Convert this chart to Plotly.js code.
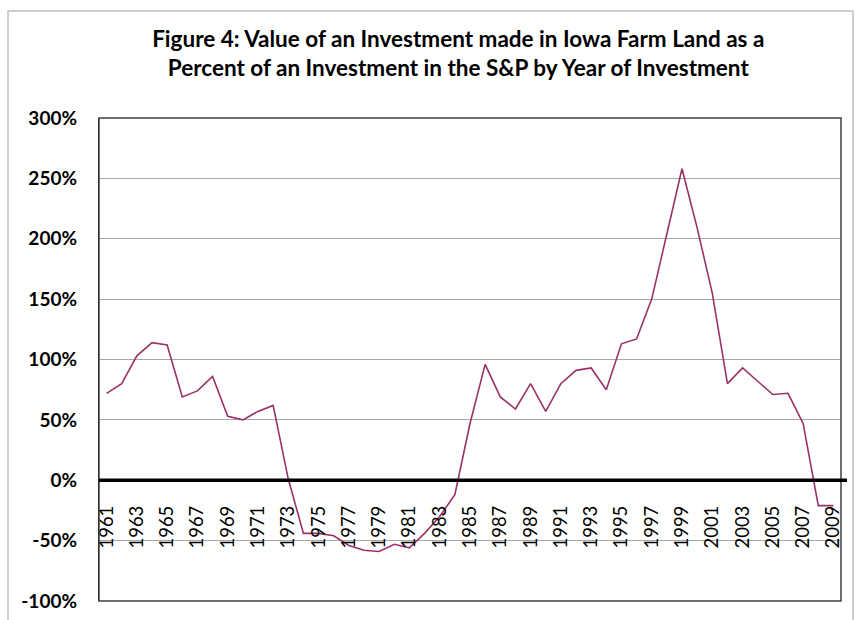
<!DOCTYPE html>
<html>
<head>
<meta charset="utf-8">
<script src="https://cdn.plot.ly/plotly-3.0.1.min.js"></script>
<style>
  html, body { margin: 0; padding: 0; background: #ffffff; }
  #chart { width: 855px; height: 620px; }
</style>
</head>
<body>
<div id="chart"></div>
<script>
// Years of investment (categories)
const years = ["1961","1962","1963","1964","1965","1966","1967","1968","1969","1970",
  "1971","1972","1973","1974","1975","1976","1977","1978","1979","1980",
  "1981","1982","1983","1984","1985","1986","1987","1988","1989","1990",
  "1991","1992","1993","1994","1995","1996","1997","1998","1999","2000",
  "2001","2002","2003","2004","2005","2006","2007","2008","2009"];

// Value of Iowa farm land investment as % of S&P investment
const farmVsSP = [72, 80, 103, 114, 112, 69, 74, 86, 53, 50,
  57, 62, 1, -44, -44, -46, -54, -58, -59, -53,
  -56, -44, -30, -12, 47, 96, 69, 59, 80, 57,
  80, 91, 93, 75, 113, 117, 150, 204, 258, 209,
  155, 80, 93, 82, 71, 72, 47, -21, -21];

// Tick labels shown on the x axis (every other year)
const xTickLabels = ["1961","1963","1965","1967","1969","1971","1973","1975","1977","1979",
  "1981","1983","1985","1987","1989","1991","1993","1995","1997","1999",
  "2001","2003","2005","2007","2009"];

// Y axis ticks
const yTickVals = [-100, -50, 0, 50, 100, 150, 200, 250, 300];
const yTickText = ["-100%", "-50%", "0%", "50%", "100%", "150%", "200%", "250%", "300%"];

const titleText = "Figure 4: Value of an Investment made in Iowa Farm Land as a<br>Percent of an Investment in the S&P by Year of Investment";

const trace = {
  x: years,
  y: farmVsSP,
  type: "scatter",
  mode: "lines",
  line: { color: "#993366", width: 1.6 },
  hoverinfo: "x+y"
};

const layout = {
  width: 855,
  height: 620,
  paper_bgcolor: "#ffffff",
  plot_bgcolor: "#ffffff",
  margin: { l: 99, r: 14, t: 118, b: 19, pad: 0 },
  showlegend: false,
  font: { family: "Lato, 'Open Sans', sans-serif", color: "#000000" },
  title: {
    text: titleText,
    font: { family: "Lato, 'Open Sans', sans-serif", size: 22.5, color: "#000000", weight: "bold" },
    xref: "container", x: 0.536, xanchor: "center",
    yref: "container", y: 0.925, yanchor: "top"
  },
  xaxis: {
    type: "category",
    range: [-0.5, years.length - 0.5],
    tickmode: "array",
    tickvals: xTickLabels,
    ticktext: xTickLabels,
    tickangle: -90,
    tickfont: { size: 18.5, color: "#000000" },
    ticks: "outside",
    ticklen: 17,
    tickcolor: "rgba(0,0,0,0)",
    showgrid: false,
    zeroline: false,
    showline: false,
    anchor: "free",
    position: 0.25,
    fixedrange: true
  },
  yaxis: {
    range: [-100, 300],
    tickmode: "array",
    tickvals: yTickVals,
    ticktext: yTickText,
    tickfont: { size: 19, color: "#000000", weight: "bold" },
    ticks: "outside",
    ticklen: 17,
    tickcolor: "rgba(0,0,0,0)",
    showgrid: true,
    gridcolor: "#a6a6a6",
    gridwidth: 1,
    zeroline: false,
    showline: true,
    linecolor: "#000000",
    linewidth: 1.2,
    fixedrange: true
  },
  shapes: [
    // outer chart frame
    { type: "rect", xref: "paper", yref: "paper",
      x0: (8 - 99) / 742, x1: (853 - 99) / 742,
      y0: (601 - 630) / 483, y1: (601 - 11) / 483,
      line: { color: "#bfbfbf", width: 1.5 }, fillcolor: "rgba(0,0,0,0)", layer: "below" },
    // plot area border
    { type: "rect", xref: "paper", yref: "paper", x0: 0, x1: 1, y0: 0, y1: 1,
      line: { color: "#404040", width: 1.5 }, fillcolor: "rgba(0,0,0,0)", layer: "above" },
    // thick zero line
    { type: "line", xref: "paper", yref: "y", x0: 0, x1: (847 - 99) / 742, y0: 0, y1: 0,
      line: { color: "#000000", width: 3.5 }, layer: "above" }
  ]
};

Plotly.newPlot("chart", [trace], layout, { displayModeBar: false, staticPlot: true });
</script>
</body>
</html>
